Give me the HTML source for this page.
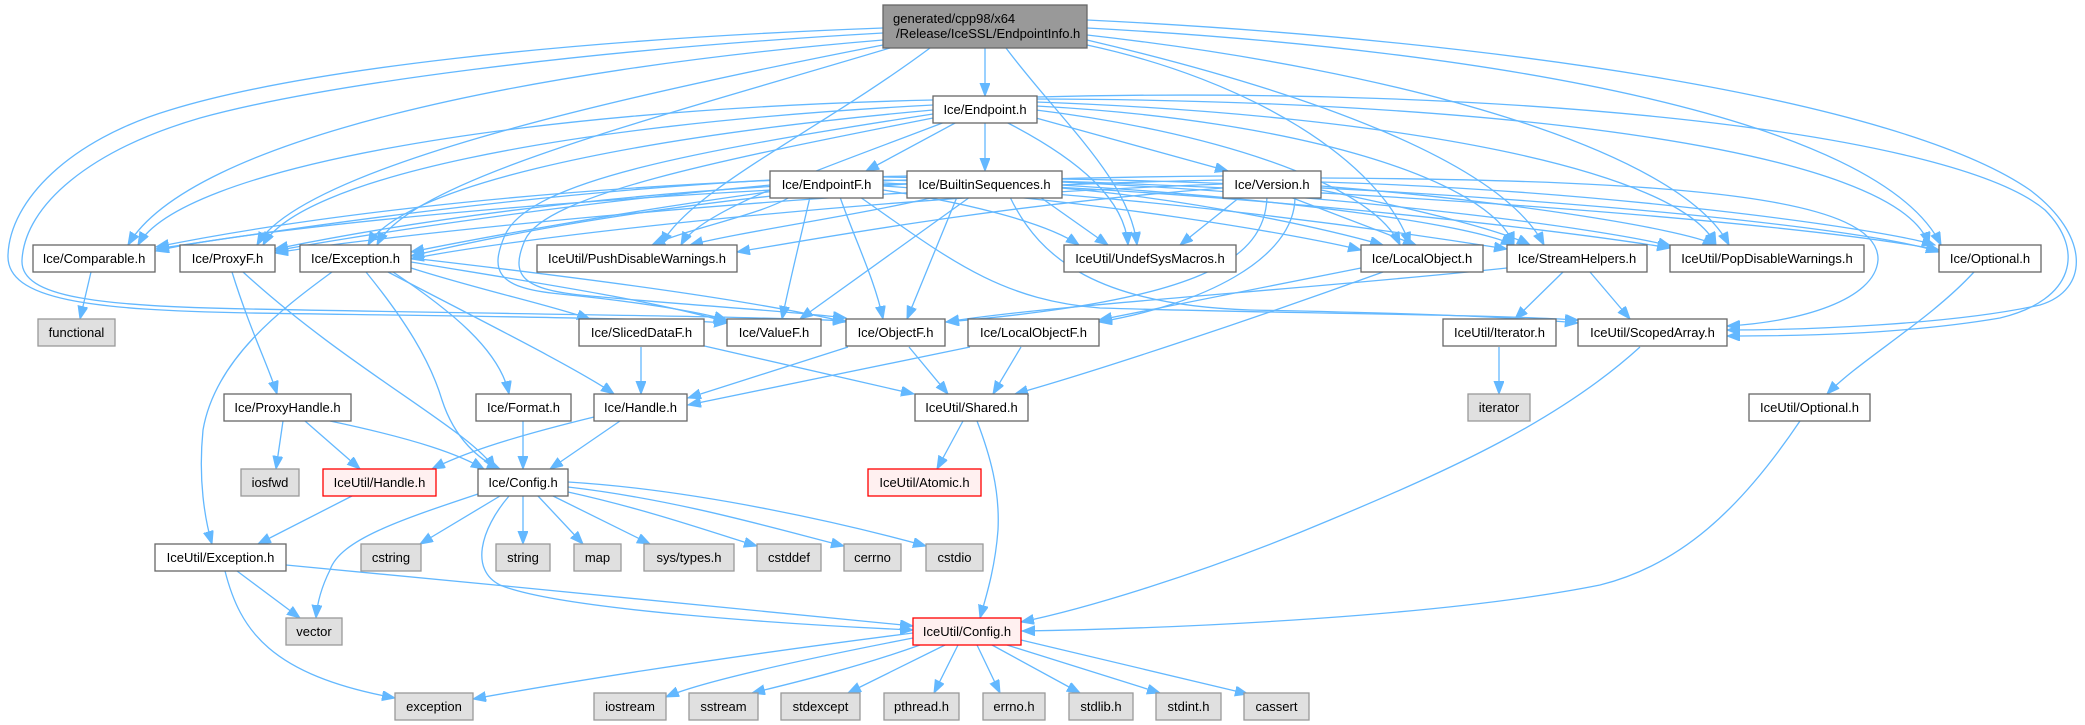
<!DOCTYPE html>
<html><head><meta charset="utf-8"><style>
html,body{margin:0;padding:0;background:#fff;}
svg{display:block;}
text{font-family:"Liberation Sans",Arial,sans-serif;font-size:13px;fill:#000;}
.e path{fill:none;stroke:#63b8ff;stroke-width:1.3;marker-end:url(#a);}
.w{fill:#fff;stroke:#666;stroke-width:1.3;}
.g{fill:#e0e0e0;stroke:#999;stroke-width:1.3;}
.r{fill:#fff0f0;stroke:#ff0000;stroke-width:1.3;}
</style></head><body>
<svg width="2085" height="725" viewBox="0 0 2085 725" xmlns="http://www.w3.org/2000/svg">
<defs><marker id="a" markerUnits="userSpaceOnUse" markerWidth="14" markerHeight="11" refX="13" refY="5" orient="auto"><path d="M0,0 L13,5 L0,10 z" fill="#63b8ff" stroke="#63b8ff" stroke-width="1"/></marker></defs>
<g class="e">
<!-- TOP -->
<path d="M985,48 L985,96"/>
<path d="M1006,48 C1060,120 1130,180 1137,245"/>
<path d="M930,48 C820,130 690,190 661,245"/>
<path d="M883,40 C520,70 190,140 128,245"/>
<path d="M883,45 C600,100 300,170 257,245"/>
<path d="M890,48 C650,120 410,180 377,245"/>
<path d="M883,28 C560,40 300,70 170,110 C70,140 10,200 8,255 C6,300 90,310 250,313 C450,316 650,318 727,323"/>
<path d="M883,33 C580,50 320,85 200,118 C90,150 25,205 22,260 C20,298 100,306 250,309 C500,314 750,316 846,321"/>
<path d="M1087,45 C1250,80 1380,160 1410,245"/>
<path d="M1087,40 C1300,90 1500,160 1544,245"/>
<path d="M1087,35 C1400,70 1680,150 1729,245"/>
<path d="M1087,28 C1500,50 1880,120 1941,245"/>
<path d="M1087,20 C1500,40 1900,100 2030,190 C2090,235 2090,290 2040,305 C1950,325 1800,330 1727,330"/>
<!-- Endpoint -->
<path d="M957,122 L866,171"/>
<path d="M985,122 L985,171"/>
<path d="M1036,118 L1228,171"/>
<path d="M1006,122 C1080,160 1125,200 1128,245"/>
<path d="M933,100 C500,110 180,170 138,245"/>
<path d="M933,105 C550,125 300,180 263,245"/>
<path d="M933,110 C600,140 400,190 368,245"/>
<path d="M945,122 C820,170 700,210 681,245"/>
<path d="M933,114 C700,150 530,180 505,235 C490,270 495,288 560,294 C640,302 700,312 727,320"/>
<path d="M933,118 C720,160 545,195 525,240 C510,275 520,290 590,296 C700,306 800,312 846,318"/>
<path d="M1036,110 C1200,130 1370,180 1400,245"/>
<path d="M1036,106 C1300,120 1490,180 1514,245"/>
<path d="M1036,102 C1400,115 1680,170 1716,245"/>
<path d="M1036,99 C1500,100 1900,150 1929,245"/>
<path d="M1036,97 C1500,85 1950,130 2045,210 C2085,250 2075,300 2000,318 C1900,335 1790,336 1727,336"/>
<!-- EndpointF -->
<path d="M771,180 C500,195 250,235 156,249"/>
<path d="M771,185 C550,205 330,240 275,251"/>
<path d="M775,191 C620,212 470,240 411,252"/>
<path d="M790,197 C760,215 690,228 652,245"/>
<path d="M810,197 C800,240 790,280 782,319"/>
<path d="M840,197 C855,240 875,280 883,319"/>
<path d="M883,190 C980,205 1050,225 1079,245"/>
<path d="M883,186 C1100,200 1300,235 1361,250"/>
<path d="M883,183 C1150,195 1400,232 1507,249"/>
<path d="M883,180 C1200,188 1550,228 1670,248"/>
<path d="M883,177 C1300,183 1800,222 1939,250"/>
<path d="M860,197 C950,260 1000,300 1100,308 C1300,314 1480,314 1578,320"/>
<!-- BuiltinSequences -->
<path d="M907,176 C500,185 250,228 156,247"/>
<path d="M907,180 C550,192 330,238 275,249"/>
<path d="M907,184 C650,202 470,242 411,256"/>
<path d="M935,197 C860,215 740,232 690,245"/>
<path d="M970,197 L800,319"/>
<path d="M957,197 L907,319"/>
<path d="M1040,197 L1108,245"/>
<path d="M1061,188 C1200,200 1330,230 1383,245"/>
<path d="M1061,185 C1300,200 1470,225 1514,245"/>
<path d="M1061,182 C1350,195 1600,228 1671,246"/>
<path d="M1061,179 C1400,184 1850,222 1939,252"/>
<path d="M1010,197 C1040,260 1100,305 1250,310 C1400,313 1500,316 1578,323"/>
<!-- Version -->
<path d="M1223,176 C700,180 250,228 156,251"/>
<path d="M1223,180 C800,188 350,240 275,253"/>
<path d="M1223,184 C850,198 500,240 411,259"/>
<path d="M1223,188 C1000,205 820,238 737,252"/>
<path d="M1240,197 L1180,245"/>
<path d="M1290,197 L1416,245"/>
<path d="M1321,190 C1420,210 1500,230 1530,245"/>
<path d="M1321,186 C1500,200 1680,228 1716,245"/>
<path d="M1321,182 C1600,190 1880,228 1935,245"/>
<path d="M1321,178 C1700,180 1880,200 1878,260 C1875,300 1800,322 1727,326"/>
<path d="M1267,197 C1265,260 1200,300 946,322"/>
<path d="M1295,197 C1295,260 1200,305 1099,322"/>
<!-- Row D -->
<path d="M91,272 L80,319"/>
<path d="M232,272 C250,330 270,370 277,394"/>
<path d="M243,272 C350,370 470,430 495,469"/>
<path d="M332,272 C280,310 215,360 203,430 C198,480 205,520 212,544"/>
<path d="M393,272 C450,310 500,350 509,394"/>
<path d="M388,272 C480,320 580,370 614,394"/>
<path d="M366,272 C405,320 430,360 442,400 C455,440 480,460 500,469"/>
<path d="M411,268 C480,290 550,305 590,319"/>
<path d="M411,262 C550,285 650,300 727,322"/>
<path d="M411,258 C600,280 750,300 846,322"/>
<path d="M1383,272 C1250,320 1100,370 1015,394"/>
<path d="M1361,268 C1250,290 1150,310 1099,320"/>
<path d="M1507,268 C1300,290 1050,305 946,322"/>
<path d="M1563,272 L1515,319"/>
<path d="M1590,272 L1630,319"/>
<path d="M1974,272 C1930,320 1860,360 1827,394"/>
<!-- Row E -->
<path d="M641,347 L641,394"/>
<path d="M700,345 L914,394"/>
<path d="M848,347 L688,398"/>
<path d="M909,347 L948,394"/>
<path d="M970,347 L688,405"/>
<path d="M1021,347 L993,394"/>
<path d="M1499,347 L1499,394"/>
<path d="M1640,347 C1560,420 1450,470 1330,520 C1200,575 1080,610 1021,622"/>
<!-- Row F -->
<path d="M1800,421 C1740,510 1680,565 1600,585 C1450,615 1200,628 1022,631"/>
<path d="M963,421 L937,469"/>
<path d="M977,421 C990,455 1000,490 998,530 C995,570 985,600 980,618"/>
<path d="M283,421 L276,469"/>
<path d="M305,421 L360,469"/>
<path d="M330,421 C420,440 460,455 484,469"/>
<path d="M523,421 L523,469"/>
<path d="M620,421 L550,469"/>
<path d="M594,417 C500,440 460,455 432,469"/>
<!-- Row G -->
<path d="M352,496 L258,544"/>
<path d="M509,496 C480,530 470,570 500,585 C560,610 800,625 913,630"/>
<path d="M478,494 C400,520 340,540 330,570 C320,590 317,605 316,618"/>
<path d="M500,496 L420,544"/>
<path d="M523,496 L523,544"/>
<path d="M538,496 L583,544"/>
<path d="M553,496 L650,544"/>
<path d="M568,492 C650,510 720,535 757,546"/>
<path d="M568,487 C680,500 780,530 844,546"/>
<path d="M568,482 C700,490 850,525 926,546"/>
<!-- Row H -->
<path d="M286,565 C500,585 800,615 913,626"/>
<path d="M237,571 L300,618"/>
<path d="M225,571 C240,630 270,675 395,698"/>
<!-- IceUtil/Config.h -->
<path d="M913,633 C700,660 550,685 473,699"/>
<path d="M913,638 C800,660 700,682 666,697"/>
<path d="M920,645 C850,670 780,686 752,693"/>
<path d="M945,645 L848,693"/>
<path d="M958,645 L934,693"/>
<path d="M977,645 L1000,693"/>
<path d="M992,645 L1080,693"/>
<path d="M1007,645 L1160,693"/>
<path d="M1021,640 L1248,694"/>
</g>
<g>
<rect x="883" y="5" width="204" height="43" fill="#999" stroke="#666" stroke-width="1.3"/>
<text x="893" y="23">generated/cpp98/x64</text>
<text x="896" y="38">/Release/IceSSL/EndpointInfo.h</text>

<rect class="w" x="933" y="96" width="104" height="27"/><text x="985" y="114" text-anchor="middle">Ice/Endpoint.h</text>

<rect class="w" x="770" y="171" width="113" height="27"/><text x="826.5" y="189" text-anchor="middle">Ice/EndpointF.h</text>
<rect class="w" x="907" y="171" width="155" height="27"/><text x="984.5" y="189" text-anchor="middle">Ice/BuiltinSequences.h</text>
<rect class="w" x="1223" y="171" width="98" height="27"/><text x="1272" y="189" text-anchor="middle">Ice/Version.h</text>

<rect class="w" x="33" y="245" width="122" height="27"/><text x="94" y="263" text-anchor="middle">Ice/Comparable.h</text>
<rect class="w" x="180" y="245" width="95" height="27"/><text x="227.5" y="263" text-anchor="middle">Ice/ProxyF.h</text>
<rect class="w" x="300" y="245" width="111" height="27"/><text x="355.5" y="263" text-anchor="middle">Ice/Exception.h</text>
<rect class="w" x="537" y="245" width="200" height="27"/><text x="637" y="263" text-anchor="middle">IceUtil/PushDisableWarnings.h</text>
<rect class="w" x="1064" y="245" width="172" height="27"/><text x="1150" y="263" text-anchor="middle">IceUtil/UndefSysMacros.h</text>
<rect class="w" x="1361" y="245" width="122" height="27"/><text x="1422" y="263" text-anchor="middle">Ice/LocalObject.h</text>
<rect class="w" x="1507" y="245" width="140" height="27"/><text x="1577" y="263" text-anchor="middle">Ice/StreamHelpers.h</text>
<rect class="w" x="1670" y="245" width="194" height="27"/><text x="1767" y="263" text-anchor="middle">IceUtil/PopDisableWarnings.h</text>
<rect class="w" x="1939" y="245" width="102" height="27"/><text x="1990" y="263" text-anchor="middle">Ice/Optional.h</text>

<rect class="g" x="38" y="319" width="77" height="27"/><text x="76.5" y="337" text-anchor="middle">functional</text>
<rect class="w" x="579" y="319" width="125" height="27"/><text x="641.5" y="337" text-anchor="middle">Ice/SlicedDataF.h</text>
<rect class="w" x="727" y="319" width="94" height="27"/><text x="774" y="337" text-anchor="middle">Ice/ValueF.h</text>
<rect class="w" x="846" y="319" width="99" height="27"/><text x="895.5" y="337" text-anchor="middle">Ice/ObjectF.h</text>
<rect class="w" x="968" y="319" width="131" height="27"/><text x="1033.5" y="337" text-anchor="middle">Ice/LocalObjectF.h</text>
<rect class="w" x="1443" y="319" width="113" height="27"/><text x="1499.5" y="337" text-anchor="middle">IceUtil/Iterator.h</text>
<rect class="w" x="1578" y="319" width="149" height="27"/><text x="1652.5" y="337" text-anchor="middle">IceUtil/ScopedArray.h</text>

<rect class="w" x="224" y="394" width="127" height="27"/><text x="287.5" y="412" text-anchor="middle">Ice/ProxyHandle.h</text>
<rect class="w" x="476" y="394" width="95" height="27"/><text x="523.5" y="412" text-anchor="middle">Ice/Format.h</text>
<rect class="w" x="594" y="394" width="93" height="27"/><text x="640.5" y="412" text-anchor="middle">Ice/Handle.h</text>
<rect class="w" x="915" y="394" width="113" height="27"/><text x="971.5" y="412" text-anchor="middle">IceUtil/Shared.h</text>
<rect class="g" x="1468" y="394" width="62" height="27"/><text x="1499" y="412" text-anchor="middle">iterator</text>
<rect class="w" x="1749" y="394" width="121" height="27"/><text x="1809.5" y="412" text-anchor="middle">IceUtil/Optional.h</text>

<rect class="g" x="241" y="469" width="58" height="27"/><text x="270" y="487" text-anchor="middle">iosfwd</text>
<rect class="r" x="323" y="469" width="113" height="27"/><text x="379.5" y="487" text-anchor="middle">IceUtil/Handle.h</text>
<rect class="w" x="478" y="469" width="90" height="27"/><text x="523" y="487" text-anchor="middle">Ice/Config.h</text>
<rect class="r" x="868" y="469" width="113" height="27"/><text x="924.5" y="487" text-anchor="middle">IceUtil/Atomic.h</text>

<rect class="w" x="155" y="544" width="131" height="27"/><text x="220.5" y="562" text-anchor="middle">IceUtil/Exception.h</text>
<rect class="g" x="361" y="544" width="60" height="27"/><text x="391" y="562" text-anchor="middle">cstring</text>
<rect class="g" x="496" y="544" width="54" height="27"/><text x="523" y="562" text-anchor="middle">string</text>
<rect class="g" x="574" y="544" width="47" height="27"/><text x="597.5" y="562" text-anchor="middle">map</text>
<rect class="g" x="644" y="544" width="90" height="27"/><text x="689" y="562" text-anchor="middle">sys/types.h</text>
<rect class="g" x="757" y="544" width="64" height="27"/><text x="789" y="562" text-anchor="middle">cstddef</text>
<rect class="g" x="844" y="544" width="57" height="27"/><text x="872.5" y="562" text-anchor="middle">cerrno</text>
<rect class="g" x="926" y="544" width="57" height="27"/><text x="954.5" y="562" text-anchor="middle">cstdio</text>

<rect class="g" x="286" y="618" width="56" height="27"/><text x="314" y="636" text-anchor="middle">vector</text>
<rect class="r" x="913" y="618" width="108" height="27"/><text x="967" y="636" text-anchor="middle">IceUtil/Config.h</text>

<rect class="g" x="395" y="693" width="78" height="27"/><text x="434" y="711" text-anchor="middle">exception</text>
<rect class="g" x="594" y="693" width="72" height="27"/><text x="630" y="711" text-anchor="middle">iostream</text>
<rect class="g" x="689" y="693" width="69" height="27"/><text x="723.5" y="711" text-anchor="middle">sstream</text>
<rect class="g" x="781" y="693" width="79" height="27"/><text x="820.5" y="711" text-anchor="middle">stdexcept</text>
<rect class="g" x="884" y="693" width="75" height="27"/><text x="921.5" y="711" text-anchor="middle">pthread.h</text>
<rect class="g" x="983" y="693" width="62" height="27"/><text x="1014" y="711" text-anchor="middle">errno.h</text>
<rect class="g" x="1069" y="693" width="64" height="27"/><text x="1101" y="711" text-anchor="middle">stdlib.h</text>
<rect class="g" x="1156" y="693" width="65" height="27"/><text x="1188.5" y="711" text-anchor="middle">stdint.h</text>
<rect class="g" x="1244" y="693" width="65" height="27"/><text x="1276.5" y="711" text-anchor="middle">cassert</text>
</g>
</svg>
</body></html>
